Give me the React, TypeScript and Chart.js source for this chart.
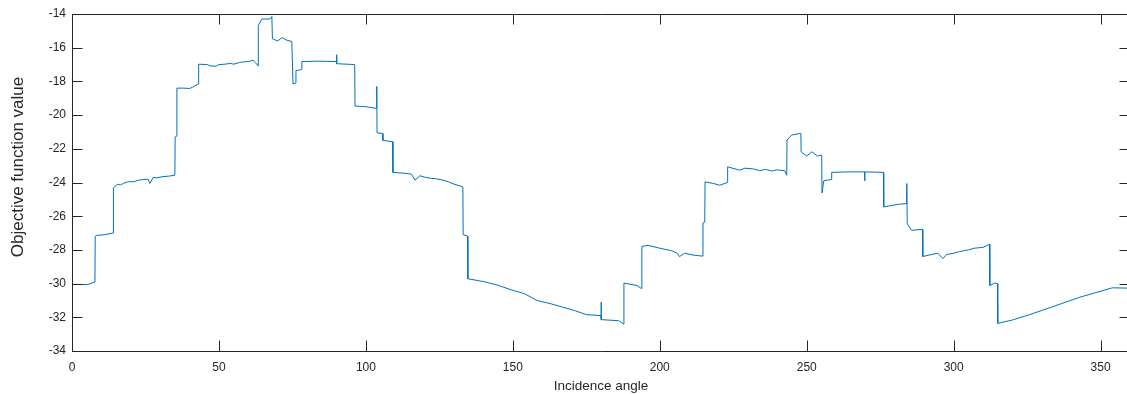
import React, { useEffect, useRef } from "react";
import { Chart, registerables } from "chart.js";

Chart.register(...registerables);

const angles: number[] = [
  0, 0.1, 5.4, 7.8, 7.9, 8.4, 11, 14, 14.1, 15.6, 16.5, 17.5, 19, 21, 23, 25.9, 26.5, 27.6, 29, 31, 33, 35,
  35.1, 35.6, 35.7, 38, 40, 41, 43, 43.1, 46, 47, 49, 50, 52, 54, 55, 57, 58, 60, 61.6, 62.5, 63.3,
  63.4, 64.6, 67.3, 68, 68.2, 70, 71.5, 73, 74.8, 75.2, 76.1, 76.2, 78.1, 78.2,
  84, 90, 90.05, 90.1, 96.2, 96.3, 100, 103.6, 103.7, 103.8, 105.7, 105.8, 109.1,
  109.2, 113, 115.5, 116.7, 118.4, 120, 122, 124, 126, 128, 130, 132, 133, 133.1, 134.6, 134.7, 140.5, 145,
  150, 154, 158.2, 163, 167, 171, 175, 180, 180.05, 180.1, 186, 187.7, 187.8,
  192.2, 193.8, 193.9, 196, 200, 204, 206, 206.7, 208.5, 211, 214.6, 214.7, 215.3,
  215.4, 218, 220.4, 223, 223.1, 227.2, 229, 232, 234, 236, 238, 240, 242.5, 243.2, 243.3, 244.9, 248,
  248.1, 250, 251.7, 253.7, 255.1, 255.2, 255.8, 258.4, 258.5, 264, 269.7, 269.75,
  269.8, 276.1, 276.2, 281, 284, 284.05, 284.2, 285.7, 289.4, 289.5, 294.6, 296.3,
  297.6, 300, 302, 305, 307, 310, 312.2, 312.3, 314, 314.9, 315, 320, 325.9, 333.7, 342.9, 354, 360,
];

const objectiveValues: number[] = [
  -31.2, -30.05, -30.05, -29.9, -27.2, -27.14, -27.1, -27.0, -24.3, -24.1, -24.15, -24.05, -23.96, -23.95, -23.85, -23.8, -24.06, -23.7, -23.72, -23.65, -23.62, -23.57,
  -21.3, -21.25, -18.4, -18.4, -18.42, -18.35, -18.15, -16.98, -17.0, -17.08, -17.1, -17.0, -16.98, -16.93, -16.98, -16.88, -16.85, -16.82, -16.75, -16.9, -17.08,
  -14.68, -14.3, -14.3, -14.15, -15.47, -15.6, -15.4, -15.55, -15.63, -18.15, -18.1, -17.36, -17.3, -16.82,
  -16.8, -16.82, -16.42, -16.95, -17.0, -19.46, -19.5, -19.6, -18.3, -21.05, -21.1, -21.5, -21.58,
  -23.4, -23.45, -23.5, -23.86, -23.6, -23.68, -23.75, -23.78, -23.85, -23.95, -24.1, -24.2, -24.26, -27.1, -27.18, -29.71, -29.9, -30.1,
  -30.4, -30.6, -31.0, -31.2, -31.4, -31.6, -31.84, -31.9, -31.1, -32.14, -32.2, -32.4, -29.97,
  -30.11, -30.3, -27.8, -27.73, -27.9, -28.05, -28.2, -28.4, -28.19, -28.3, -28.37, -26.4, -26.35,
  -23.96, -24.05, -24.16, -24.0, -23.07, -23.27, -23.15, -23.2, -23.3, -23.22, -23.32, -23.25, -23.3, -23.57, -21.48, -21.18, -21.08,
  -22.18, -22.43, -22.18, -22.43, -22.37, -24.62, -23.9, -23.82, -23.4, -23.37, -23.37, -23.9,
  -23.37, -23.4, -25.45, -25.3, -25.25, -24.06, -26.44, -26.84, -26.78, -28.39, -28.19, -28.52,
  -28.27, -28.2, -28.1, -28.0, -27.9, -27.85, -27.67, -30.11, -29.97, -30.0, -32.36, -32.16, -31.84, -31.37, -30.81, -30.25, -30.27,
];

const xTickValues: number[] = [0, 50, 100, 150, 200, 250, 300, 350];
const yTickValues: number[] = [-34, -32, -30, -28, -26, -24, -22, -20, -18, -16, -14];
const xAxisTitle = "Incidence angle";
const yAxisTitle = "Objective function value";

const AXIS_COLOR = "#262626";
const LINE_COLOR = "#0072BD";
const FONT = "'Liberation Sans', Arial, Helvetica, sans-serif";

const boxPlugin = {
  id: "matlabBox",
  afterDraw(chart: any) {
    const { ctx, chartArea, scales } = chart;
    const { left, right, top, bottom } = chartArea;
    const tl = 10.5;
    ctx.save();
    ctx.strokeStyle = AXIS_COLOR;
    ctx.lineWidth = 1;
    ctx.beginPath();
    ctx.rect(left + 0.5, top + 0.5, right - left, bottom - top);
    ctx.stroke();
    ctx.beginPath();
    for (const v of xTickValues) {
      const x = Math.round(scales.x.getPixelForValue(v)) + 0.5;
      ctx.moveTo(x, bottom);
      ctx.lineTo(x, bottom - tl);
      ctx.moveTo(x, top);
      ctx.lineTo(x, top + tl);
    }
    for (const v of yTickValues) {
      const y = Math.round(scales.y.getPixelForValue(v)) + 0.5;
      ctx.moveTo(left, y);
      ctx.lineTo(left + tl, y);
      ctx.moveTo(right, y);
      ctx.lineTo(right - tl, y);
    }
    ctx.stroke();

    // axis titles
    ctx.fillStyle = AXIS_COLOR;
    ctx.textAlign = "center";
    ctx.textBaseline = "alphabetic";
    ctx.font = `13.5px ${FONT}`;
    ctx.fillText(xAxisTitle, (left + right) / 2, 389.5);

    ctx.save();
    ctx.translate(23, 167);
    ctx.rotate(-Math.PI / 2);
    ctx.font = `17px ${FONT}`;
    ctx.fillText(yAxisTitle, 0, 0);
    ctx.restore();
    ctx.restore();
  },
};

export default function App() {
  const ref = useRef<HTMLCanvasElement | null>(null);
  useEffect(() => {
    if (!ref.current) return;
    const data = angles.map((a, i) => ({ x: a, y: objectiveValues[i] }));
    const chart = new Chart(ref.current, {
      type: "line",
      data: {
        datasets: [
          {
            data,
            borderColor: LINE_COLOR,
            borderWidth: 1,
            pointRadius: 0,
            tension: 0,
            fill: false,
          },
        ],
      },
      options: {
        animation: false,
        responsive: false,
        layout: { padding: { top: 14, right: 10, left: 0, bottom: 0 } },
        plugins: { legend: { display: false }, tooltip: { enabled: false } },
        scales: {
          x: {
            type: "linear",
            min: 0,
            max: 360,
            grid: { display: false, drawTicks: false },
            border: { display: false },
            afterBuildTicks: (s: any) => {
              s.ticks = xTickValues.map((v) => ({ value: v }));
            },
            afterFit: (s: any) => {
              s.height = 43;
            },
            ticks: {
              color: AXIS_COLOR,
              font: { family: FONT, size: 12 },
              padding: 9,
              maxRotation: 0,
            },
          },
          y: {
            type: "linear",
            min: -34,
            max: -14,
            grid: { display: false, drawTicks: false },
            border: { display: false },
            afterBuildTicks: (s: any) => {
              s.ticks = yTickValues.map((v) => ({ value: v }));
            },
            afterFit: (s: any) => {
              s.width = 72;
            },
            ticks: {
              color: AXIS_COLOR,
              font: { family: FONT, size: 12 },
              padding: 6,
            },
          },
        },
      },
      plugins: [boxPlugin],
    });
    return () => chart.destroy();
  }, []);

  return (
    <div style={{ position: "fixed", left: 0, top: 0, width: 1140, height: 394, background: "#fff" }}>
      <canvas ref={ref} width={1140} height={394} style={{ display: "block" }} />
    </div>
  );
}
